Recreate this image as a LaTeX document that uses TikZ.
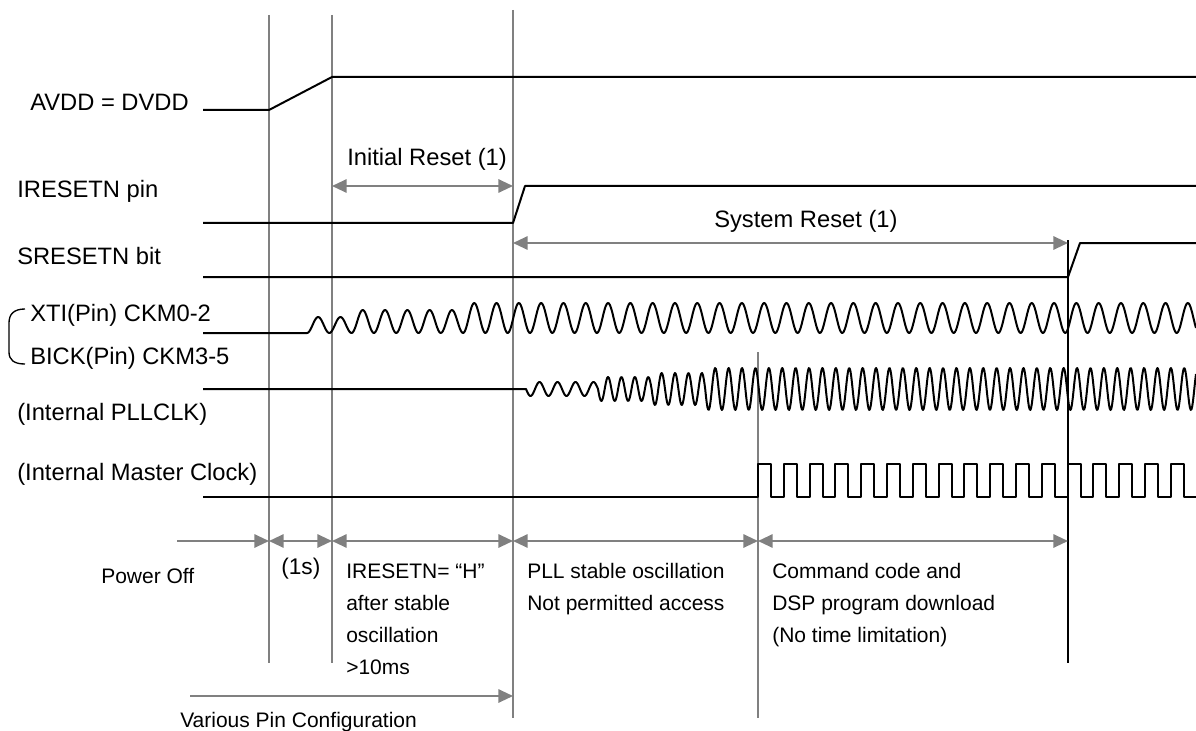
\documentclass[tikz,border=0pt]{standalone}
\usepackage{fontspec}
\setmainfont{Liberation Sans}
\usetikzlibrary{arrows.meta}
\definecolor{guide}{RGB}{128,128,128}
\definecolor{arrgray}{RGB}{128,128,128}
\begin{document}
\begin{tikzpicture}[x=0.75pt,y=-0.75pt,
  sig/.style={line width=1.5pt, black, line join=round},
  guideline/.style={draw=guide, line width=0.8pt},
  blackguide/.style={draw=black, line width=1.2pt},
  dimboth/.style={draw=arrgray, line width=1.5pt, {Triangle[length=11pt,width=10pt]}-{Triangle[length=11pt,width=10pt]}},
  dimright/.style={draw=arrgray, line width=1.5pt, -{Triangle[length=11pt,width=10pt]}},
  toplbl/.style={font=\fontsize{17.8}{21}\selectfont, anchor=base west, inner sep=0pt},
  botlbl/.style={font=\fontsize{15.75}{19}\selectfont, anchor=base west, inner sep=0pt},
]
\useasboundingbox (0,0) rectangle (1196,731);

% guide lines
\draw[guideline] (269,15) -- (269,663);
\draw[guideline] (332,15) -- (332,663);
\draw[guideline] (513,10) -- (513,718);
\draw[guideline] (758,352) -- (758,718);

% named coordinates for dimension arrows
\coordinate (pwA) at (177,541);
\coordinate (g1) at (269,541);
\coordinate (g2) at (332,541);
\coordinate (g3) at (513,541);
\coordinate (g4) at (758,541);
\coordinate (g5) at (1068,541);
\coordinate (irA) at (332,186);
\coordinate (irB) at (513,186);
\coordinate (srA) at (513,243);
\coordinate (srB) at (1068,243);
\coordinate (vpA) at (190,696);
\coordinate (vpB) at (513,696);

% signals
\draw[sig] (203,110) -- (269,110) -- (332,77) -- (1196,77);
\draw[sig] (203,223) -- (513,223) -- (525,186) -- (1196,186);
\draw[sig] (203,277) -- (1068,277) -- (1080,243) -- (1196,243);

% XTI / BICK oscillation
\draw[sig] (203,333) -- (307,333)
  -- plot[domain=307:351.6, samples=40] (\x, {333-8*(1-cos(360*((\x-307)/22.3)))})
  -- plot[domain=351.6:463.1, samples=100] (\x, {333-11.5*(1-cos(360*((\x-307)/22.3)))})
  -- plot[domain=463.1:1196, samples=700] (\x, {333-15*(1-cos(360*((\x-307)/22.3)))});

% PLLCLK
\draw[sig] (203,389) -- (526,389)
  -- plot[domain=526:598, samples=70] (\x, {389+7*sin(360*((\x-526)/18))})
  -- plot[domain=598:651.6, samples=70] (\x, {389+12*sin(360*((\x-598)/13.4))})
  -- plot[domain=651.6:705.2, samples=70] (\x, {389+16*sin(360*((\x-651.6)/13.4))})
  -- plot[domain=705.2:1196, samples=650] (\x, {389+21*sin(360*((\x-705.2)/13.4))});

% Master clock
\draw[sig] (203,497) -- (758,497)
  \foreach \k in {0,...,16} { -- ({758+25.8*\k},497) -- ({758+25.8*\k},464) -- ({770.9+25.8*\k},464) -- ({770.9+25.8*\k},497) }
  -- (1196,497);

% black guide
\draw[blackguide] (1068,240) -- (1068,663);

% bracket
\draw[line width=1pt] (25,309) .. controls (14,309) and (9,314) .. (9,323) -- (9,352) .. controls (9,360) and (14,364) .. (25,364);

% dimension arrows
\draw[dimboth] (irA) -- (irB);
\draw[dimboth] (srA) -- (srB);
\draw[dimright] (pwA) -- (g1);
\draw[dimboth] (g1) -- (g2);
\draw[dimboth] (g2) -- (g3);
\draw[dimboth] (g3) -- (g4);
\draw[dimboth] (g4) -- (g5);
\draw[dimright] (vpA) -- (vpB);

% top labels
\node[toplbl] (lavdd) at (30,111) {AVDD = DVDD};
\node[toplbl] (lires) at (17,198) {IRESETN pin};
\node[toplbl] (linit) at (347,166) {Initial Reset (1)};
\node[toplbl] (lsres) at (17,264) {SRESETN bit};
\node[toplbl] (lsys) at (714,228) {System Reset (1)};
\node[toplbl] (lxti) at (30,321) {XTI(Pin) CKM0-2};
\node[toplbl] (lbick) at (30,364) {BICK(Pin) CKM3-5};
\node[toplbl] (lpll) at (17,420) {(Internal PLLCLK)};
\node[toplbl] (lmck) at (17,480) {(Internal Master Clock)};

% bottom labels
\node[botlbl] (bpow) at (101,583) {Power Off};
\node[toplbl, font=\fontsize{17}{20}\selectfont] (b1s) at (281,574) {(1s)};
\node[botlbl] (bir1) at (346,578) {IRESETN= “H”};
\node[botlbl] (bir2) at (346,610) {after stable};
\node[botlbl] (bir3) at (346,642) {oscillation};
\node[botlbl] (bir4) at (346,674) {>10ms};
\node[botlbl] (bpl1) at (527,578) {PLL stable oscillation};
\node[botlbl] (bpl2) at (527,610) {Not permitted access};
\node[botlbl] (bcm1) at (772,578) {Command code and};
\node[botlbl] (bcm2) at (772,610) {DSP program download};
\node[botlbl] (bcm3) at (772,642) {(No time limitation)};
\node[botlbl] (bvar) at (180,727) {Various Pin Configuration};
\end{tikzpicture}
\end{document}
